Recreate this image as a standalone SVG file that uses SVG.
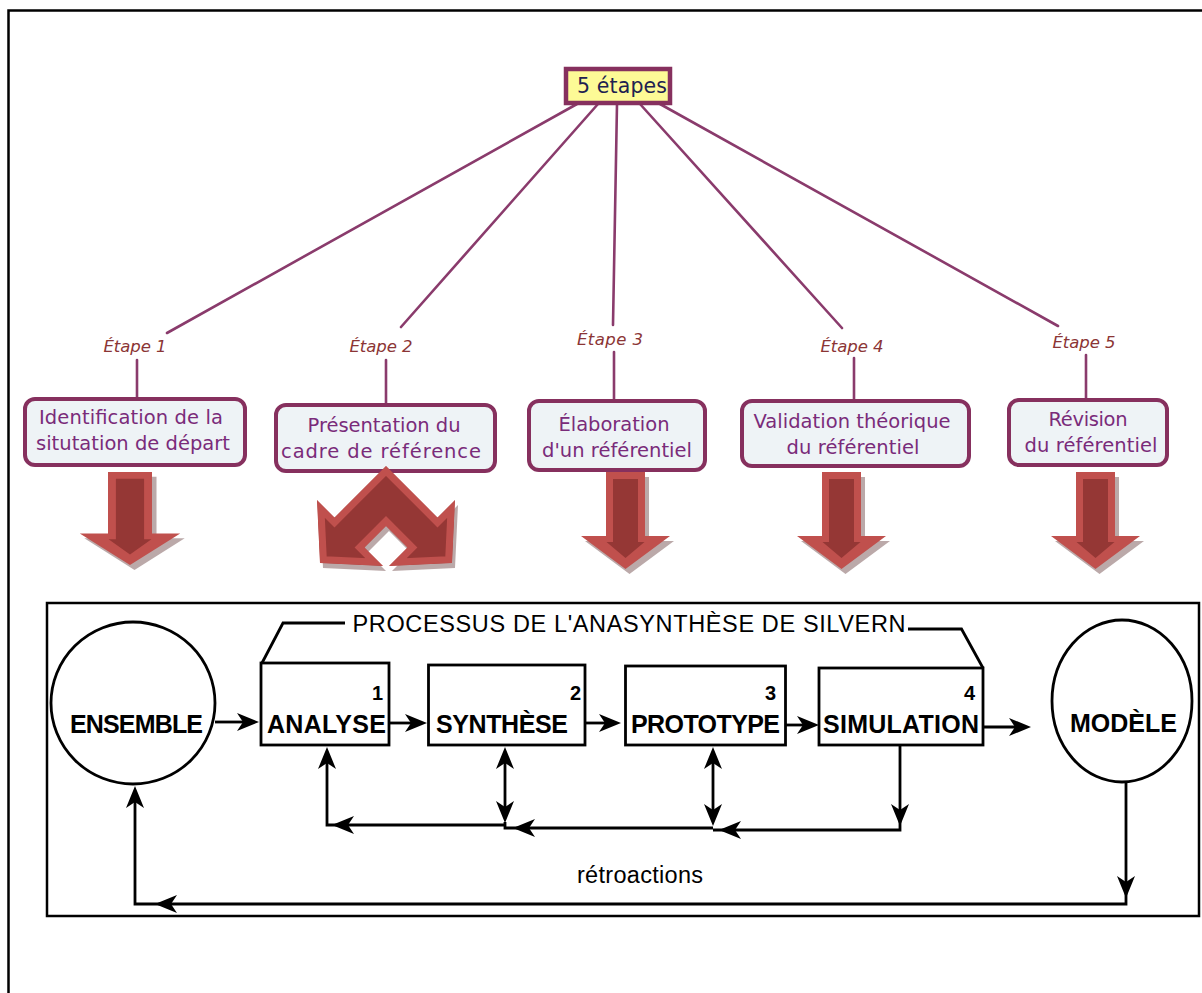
<svg xmlns="http://www.w3.org/2000/svg" width="1202" height="993" viewBox="0 0 1202 993">
  <style>
    .frame { fill: none; stroke: #000; stroke-width: 2.5; }
    .link { fill: none; stroke: #8a3b6c; stroke-width: 2.6; stroke-linecap: round; }
    .step { font-family: "DejaVu Sans", "Noto Sans", sans-serif; font-style: italic; font-size: 16.5px; fill: #8b3535; text-anchor: middle; }
    .card { fill: #eef3f6; stroke: #86305e; stroke-width: 4; }
    .cardtxt { font-family: "DejaVu Sans", "Noto Sans", sans-serif; font-size: 19.5px; fill: #7a2b7a; text-anchor: middle; }
    .big-light { fill: #c0504d; }
    .big-dark { fill: #953735; }
    .big-shadow { fill: #9e8585; opacity: 0.7; }
    .ink { fill: none; stroke: #000; stroke-width: 2.8; }
    .blk { fill: #fff; stroke: #000; stroke-width: 2.8; }
    .lbl { font-family: "Liberation Sans", Arial, sans-serif; font-weight: bold; font-size: 25px; fill: #000; text-anchor: middle; }
    .num { font-family: "Liberation Sans", Arial, sans-serif; font-weight: bold; font-size: 20px; fill: #000; text-anchor: end; }
    .plain { font-family: "Liberation Sans", Arial, sans-serif; font-size: 23.5px; fill: #000; }
  </style>
  <defs>
    <!-- broad down arrow, origin at top centre of the shaft -->
    <g id="downArrow">
      <polygon class="big-shadow" transform="translate(4,5)" points="-19.5,0 19.5,0 19.5,64 44.5,64 0,97 -44.5,64 -19.5,64"/>
      <polygon class="big-light" points="-19.5,0 19.5,0 19.5,64 44.5,64 0,97 -44.5,64 -19.5,64"/>
      <polygon class="big-dark" points="-12.5,7 12.5,7 12.5,70 19,70 0,86 -19,70 -12.5,70"/>
    </g>
    <!-- small black dart, pointing right, tip at origin -->
    <path id="dart" d="M0,0 L-22,-9 L-16,0 L-22,9 Z" fill="#000"/>
    <polygon id="chevShape" points="386,466 437.5,517.5 455,500 452,563 389,566 407.5,547.5 386,526 364.5,547.5 383,566 320,563 317,500 334.5,517.5"/>
    <clipPath id="chevClip">
      <use href="#chevShape"/>
    </clipPath>
  </defs>

  <!-- outer frame -->
  <rect class="frame" x="8.5" y="10.5" width="1210" height="1000"/>

  <!-- links from the root to each step -->
  <g id="links">
    <line class="link" x1="577" y1="104" x2="167" y2="333"/>
    <line class="link" x1="598" y1="104" x2="401" y2="327"/>
    <line class="link" x1="617" y1="104" x2="613" y2="325"/>
    <line class="link" x1="640" y1="104" x2="842" y2="328"/>
    <line class="link" x1="660" y1="104" x2="1058" y2="326"/>
    <line class="link" x1="137" y1="360" x2="137" y2="398"/>
    <line class="link" x1="386" y1="360" x2="386" y2="404"/>
    <line class="link" x1="614" y1="352" x2="614" y2="400"/>
    <line class="link" x1="854" y1="358" x2="854" y2="400"/>
    <line class="link" x1="1086" y1="355" x2="1086" y2="399"/>
    <text class="step" x="135" y="352" textLength="63">Étape 1</text>
    <text class="step" x="381" y="352" textLength="63">Étape 2</text>
    <text class="step" x="610" y="345" textLength="66">Étape 3</text>
    <text class="step" x="852" y="352" textLength="63">Étape 4</text>
    <text class="step" x="1084" y="348" textLength="63">Étape 5</text>
  </g>

  <g id="root">
    <rect x="566" y="69" width="104" height="34" fill="#fdfa96" stroke="#86305e" stroke-width="4.5"/>
    <text x="622" y="93" font-family="'DejaVu Sans', 'Noto Sans', sans-serif" font-size="20.5" fill="#202050" text-anchor="middle" textLength="90">5 étapes</text>
  </g>

  <g id="step1">
    <rect class="card" x="25" y="399" width="220" height="66" rx="10"/>
    <text class="cardtxt" x="131" y="424" textLength="184">Identification de la</text>
    <text class="cardtxt" x="133" y="450" textLength="194">situtation de départ</text>
  </g>
  <g id="step2">
    <rect class="card" x="276" y="405" width="219" height="66" rx="10"/>
    <text class="cardtxt" x="384" y="432" textLength="153">Présentation du</text>
    <text class="cardtxt" x="381" y="458" textLength="200">cadre de référence</text>
  </g>
  <g id="step3">
    <rect class="card" x="529" y="401" width="176" height="69" rx="10"/>
    <text class="cardtxt" x="614" y="431" textLength="111">Élaboration</text>
    <text class="cardtxt" x="617" y="457" textLength="150">d'un référentiel</text>
  </g>
  <g id="step4">
    <rect class="card" x="742" y="401" width="227" height="65" rx="10"/>
    <text class="cardtxt" x="852" y="428" textLength="197">Validation théorique</text>
    <text class="cardtxt" x="853" y="454" textLength="133">du référentiel</text>
  </g>
  <g id="step5">
    <rect class="card" x="1009" y="400" width="158" height="65" rx="10"/>
    <text class="cardtxt" x="1088" y="426" textLength="79">Révision</text>
    <text class="cardtxt" x="1091" y="452" textLength="133">du référentiel</text>
  </g>

  <!-- broad arrows under the steps -->
  <g id="bigArrows">
    <use href="#downArrow" transform="translate(130,472) scale(1.128,0.96)"/>
    <g id="chevron">
      <use href="#chevShape" class="big-shadow" transform="translate(3,5)"/>
      <use href="#chevShape" class="big-dark" stroke="#c0504d" stroke-width="14" stroke-linejoin="miter" clip-path="url(#chevClip)"/>
    </g>
    <use href="#downArrow" transform="translate(625.5,472)"/>
    <use href="#downArrow" transform="translate(841.5,472)"/>
    <use href="#downArrow" transform="translate(1095.5,472)"/>
  </g>

  <!-- Silvern anasynthesis panel -->
  <rect class="frame" x="47" y="603" width="1152" height="313"/>

  <g id="heading">
    <polyline class="ink" points="262,663 283,623 345,623"/>
    <polyline class="ink" points="908,629 961.5,629 983,668"/>
    <text class="plain" x="352.5" y="632" textLength="553">PROCESSUS DE L'ANASYNTHÈSE DE SILVERN</text>
  </g>

  <g id="ensemble">
    <ellipse class="blk" cx="133" cy="703" rx="82" ry="81"/>
    <text class="lbl" x="136.5" y="733" textLength="133">ENSEMBLE</text>
  </g>
  <g id="analyse">
    <rect class="blk" x="261" y="663" width="128" height="82"/>
    <text class="num" x="383" y="700">1</text>
    <text class="lbl" x="326.5" y="733" textLength="119">ANALYSE</text>
  </g>
  <g id="synthese">
    <rect class="blk" x="428.5" y="665" width="156.5" height="80"/>
    <text class="num" x="581" y="700">2</text>
    <text class="lbl" x="502" y="733" textLength="132">SYNTHÈSE</text>
  </g>
  <g id="prototype">
    <rect class="blk" x="625.5" y="666" width="160" height="79"/>
    <text class="num" x="776" y="700">3</text>
    <text class="lbl" x="705.5" y="733" textLength="149">PROTOTYPE</text>
  </g>
  <g id="simulation">
    <rect class="blk" x="819" y="668" width="164" height="77"/>
    <text class="num" x="975" y="700">4</text>
    <text class="lbl" x="901" y="733" textLength="156">SIMULATION</text>
  </g>
  <g id="modele">
    <ellipse class="blk" cx="1122" cy="701" rx="70" ry="81"/>
    <text class="lbl" x="1123.5" y="732" font-size="22">MODÈLE</text>
  </g>

  <g id="connectors">
    <!-- forward chain -->
    <line class="ink" x1="215" y1="722" x2="245" y2="722"/>
    <use href="#dart" transform="translate(259,722)"/>
    <line class="ink" x1="389" y1="723" x2="412" y2="723"/>
    <use href="#dart" transform="translate(427,723)"/>
    <line class="ink" x1="585" y1="723" x2="606" y2="723"/>
    <use href="#dart" transform="translate(621,723)"/>
    <line class="ink" x1="785.5" y1="725" x2="804" y2="725"/>
    <use href="#dart" transform="translate(819,725)"/>
    <line class="ink" x1="983" y1="727" x2="1016" y2="727"/>
    <use href="#dart" transform="translate(1031,727)"/>

    <!-- inner feedback loops -->
    <polyline class="ink" points="505,825 327,825 327,760"/>
    <use href="#dart" transform="translate(327,747) rotate(-90)"/>
    <use href="#dart" transform="translate(332,825) rotate(180)"/>

    <line class="ink" x1="505" y1="760" x2="505" y2="812"/>
    <use href="#dart" transform="translate(505,747) rotate(-90)"/>
    <use href="#dart" transform="translate(505,823) rotate(90)"/>
    <polyline class="ink" points="713,828 505,828 505,822"/>
    <use href="#dart" transform="translate(513,828) rotate(180)"/>

    <line class="ink" x1="713" y1="760" x2="713" y2="815"/>
    <use href="#dart" transform="translate(713,747) rotate(-90)"/>
    <use href="#dart" transform="translate(713,826) rotate(90)"/>
    <polyline class="ink" points="900,745 900,830 713,830"/>
    <use href="#dart" transform="translate(900,826) rotate(90)"/>
    <use href="#dart" transform="translate(719,830) rotate(180)"/>

    <!-- outer feedback loop -->
    <polyline class="ink" points="1126,782 1126,904 135,904 135,800"/>
    <use href="#dart" transform="translate(1126,898) rotate(90)"/>
    <use href="#dart" transform="translate(155,904) rotate(180)"/>
    <use href="#dart" transform="translate(135,786) rotate(-90)"/>

    <text class="plain" x="577" y="883" textLength="126">rétroactions</text>
  </g>
</svg>
